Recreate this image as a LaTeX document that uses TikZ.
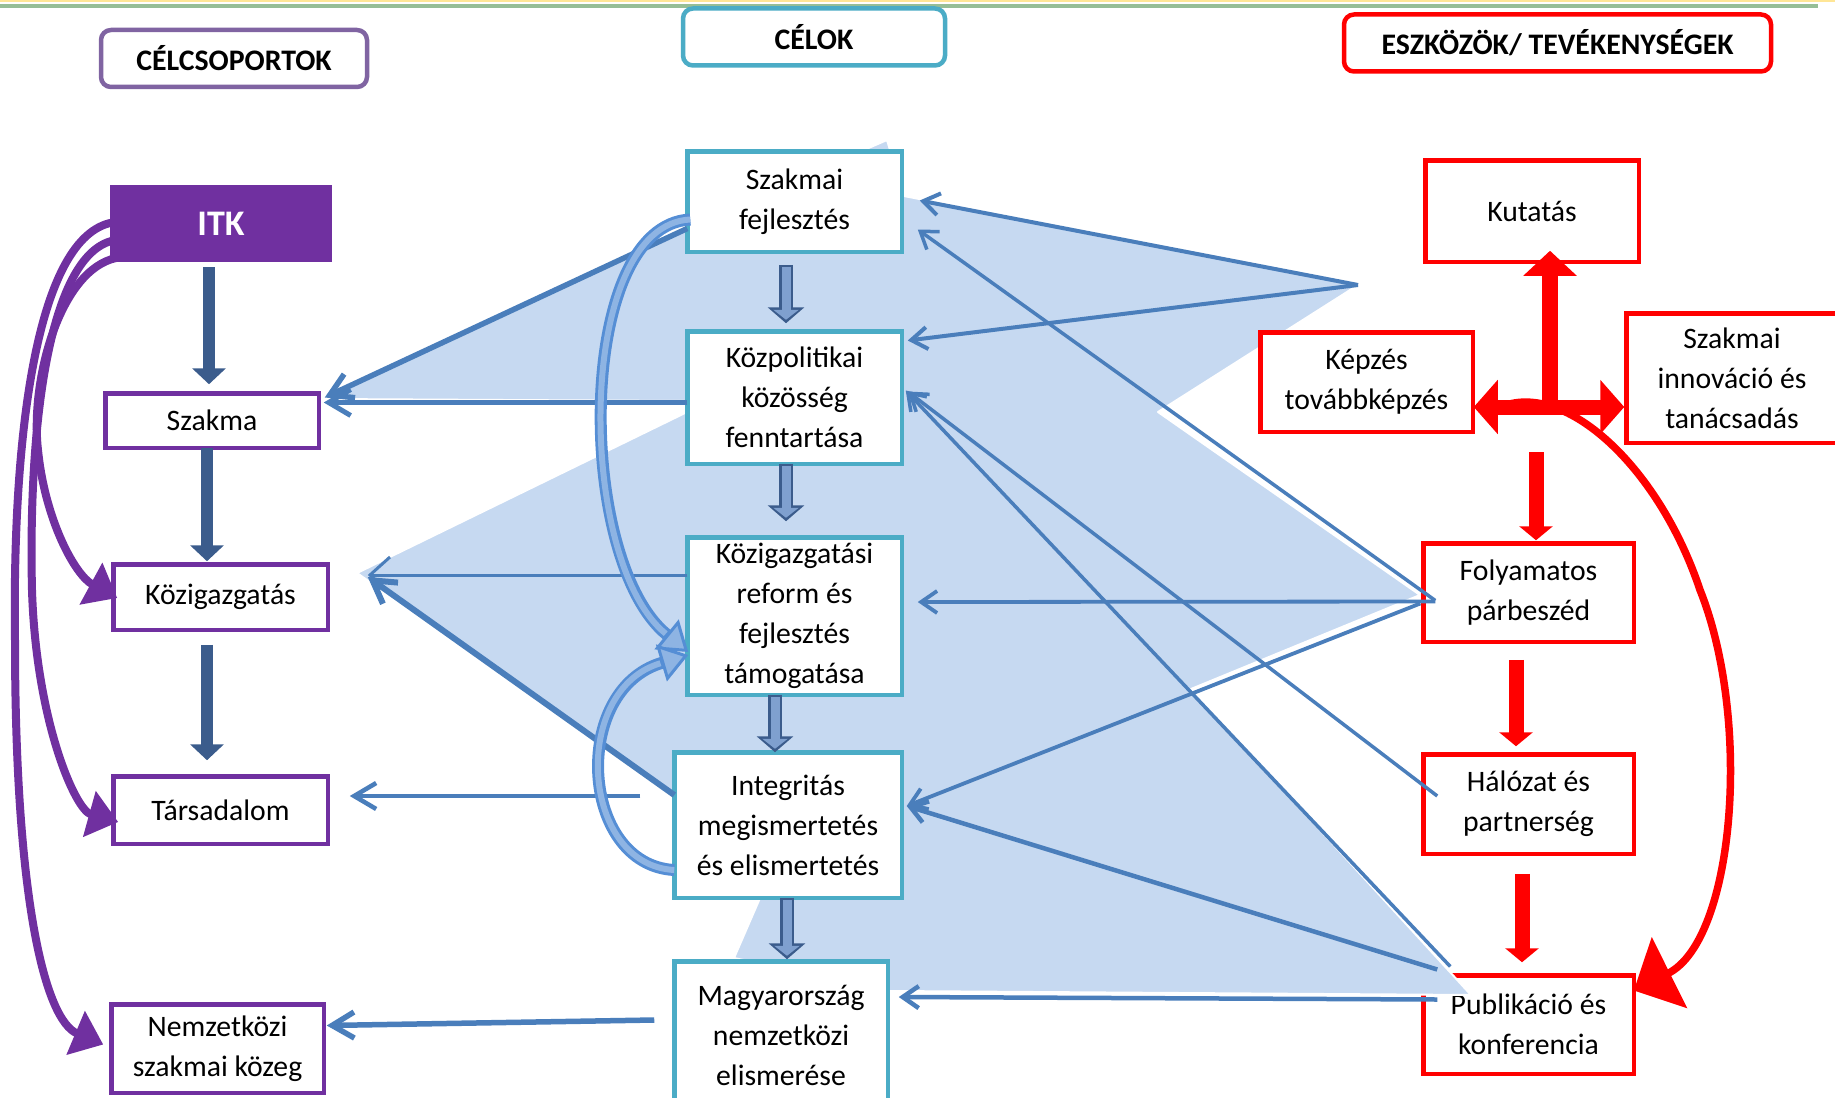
\documentclass[tikz,border=0pt]{standalone}
\usepackage{fontspec}
\setmainfont{Carlito}
\usetikzlibrary{arrows.meta,calc}
\definecolor{purp}{RGB}{112,48,160}
\definecolor{hpurp}{RGB}{128,100,162}
\definecolor{celteal}{RGB}{75,172,198}
\definecolor{bred}{RGB}{255,0,0}
\definecolor{lblue}{RGB}{198,217,241}
\definecolor{ablue}{RGB}{74,126,187}
\definecolor{dblue}{RGB}{59,92,140}
\definecolor{hfill}{RGB}{127,160,207}
\definecolor{cedge}{RGB}{85,142,213}
\definecolor{cfill}{RGB}{142,180,227}
\definecolor{topy}{RGB}{255,230,150}
\definecolor{topg}{RGB}{150,190,150}
\tikzset{
  box/.style={draw, line width=4.5pt, fill=white, inner sep=0pt, outer sep=0pt, align=center, font=\fontsize{29.7}{40}\selectfont},
  pbox/.style={box, draw=purp},
  tbox/.style={box, draw=celteal},
  rbox/.style={box, draw=bred},
  hdr/.style={draw, line width=4.5pt, fill=white, rounded corners=10pt, inner sep=0pt, outer sep=0pt, font=\bfseries\fontsize{29.8}{34}\selectfont},
  barbA/.style={draw=ablue, -{Straight Barb[length=16pt,width=22pt]}},
  barbB/.style={draw=ablue, -{Straight Barb[length=22pt,width=26pt]}},
  colarrow/.style={draw=dblue, line width=12pt, -{Triangle[length=16pt,width=33pt]}},
  redarrow/.style={draw=bred, line width=15pt, -{Triangle[length=14pt,width=33pt]}},
  purarrow/.style={draw=purp, line width=8pt, -{Triangle[length=30pt,width=46pt]}},
  hollowout/.style={draw=dblue, line width=14pt, -{Triangle[length=16pt,width=36pt]}},
  hollowin/.style={draw=hfill, line width=9pt, shorten <=2.5pt, shorten >=3.5pt, -{Triangle[length=10pt,width=25pt]}},
  cbout/.style={draw=cedge, line width=12pt, -{Triangle[length=28pt,width=38pt,fill=cfill,line width=3pt]}},
  cbin/.style={draw=cfill, line width=6pt, shorten >=29pt},
}
\begin{document}
\begin{tikzpicture}[x=1pt,y=-1pt]
\useasboundingbox (0,0) rectangle (1835,1097);
\clip (0,0) rectangle (1835,1097);
% top stripes
\fill[topy] (0,0) rectangle (1835,2.5);
\fill[topg] (0,4.5) rectangle (1818,8.5);

% box under the fill
\node[rbox, minimum width=210.5pt, minimum height=98.5pt] (pub) at (1528.5,1024.5) {Publikáció és\\konferencia};

% light blue background shape
\fill[lblue, draw=white, line width=2pt, line join=round]
  (887,140) -- (904,196) -- (1358,285) -- (1158,412) -- (1420,595) -- (1191,689)
  -- (1471,995) -- (890,991) -- (734,958) -- (760,898) -- (674,795) -- (357,573)
  -- (685,413) -- (685,401) -- (323,399) -- (688,226) -- cycle;

% headers
\node[hdr, draw=hpurp, minimum width=266pt, minimum height=57pt] (h1) at (234,58.5) {CÉLCSOPORTOK};
\node[hdr, draw=celteal, minimum width=262pt, minimum height=57pt] (h2) at (814,37) {CÉLOK};
\node[hdr, draw=bred, minimum width=427pt, minimum height=57pt] (h3) at (1557.5,43) {ESZKÖZÖK/ TEVÉKENYSÉGEK};

% left column
\node[fill=purp, text=white, inner sep=0pt, outer sep=0pt, minimum width=222pt, minimum height=77pt, font=\bfseries\fontsize{36}{40}\selectfont] (itk) at (221,223.5) {ITK};
\node[pbox, minimum width=213.5pt, minimum height=54.5pt] (szakma) at (212,420.5) {Szakma};
\node[pbox, minimum width=214.5pt, minimum height=65.5pt] (kozig) at (220.5,597) {Közigazgatás};
\node[pbox, minimum width=214.5pt, minimum height=67.5pt] (tars) at (220.5,810) {Társadalom};
\node[pbox, minimum width=212.5pt, minimum height=88.5pt] (nemz) at (217.5,1048.5) {Nemzetközi\\szakmai közeg};

% middle column
\node[tbox, minimum width=214.5pt, minimum height=100.5pt] (sf) at (794.5,201.5) {Szakmai\\fejlesztés};
\node[tbox, minimum width=214.5pt, minimum height=132.5pt] (kp) at (794.5,397.5) {Közpolitikai\\közösség\\fenntartása};
\node[tbox, minimum width=214.5pt, minimum height=157.5pt] (kr) at (794.5,616) {Közigazgatási\\reform és\\fejlesztés\\támogatása};
\node[tbox, minimum width=227.5pt, minimum height=145.5pt] (ig) at (788,825) {Integritás\\megismertetés\\és elismertetés};
\node[tbox, minimum width=213.5pt, minimum height=147.5pt] (mo) at (781,1035) {Magyarország\\nemzetközi\\elismerése};

% right column
\node[rbox, minimum width=213.5pt, minimum height=101.5pt] (kut) at (1532,211) {Kutatás};
\node[rbox, minimum width=212.5pt, minimum height=99.5pt] (kep) at (1366.5,382) {Képzés\\továbbképzés};
\node[rbox, minimum width=211.5pt, minimum height=129.5pt] (inn) at (1732,378) {Szakmai\\innováció és\\tanácsadás};
\node[rbox, minimum width=210.5pt, minimum height=98.5pt] (foly) at (1528.5,592.5) {Folyamatos\\párbeszéd};
\node[rbox, minimum width=210.5pt, minimum height=99.5pt] (hal) at (1528.5,804) {Hálózat és\\partnerség};

% right-side blue arrows
\coordinate (P) at (1358,285);
\draw[barbA, line width=4pt] (P) -- ($(sf.east)+(18,-1)$);
\draw[barbA, line width=4pt] (P) -- ($(kp.east)+(6,-57)$);
\draw[barbA, line width=3.5pt] ($(foly.west)+(12,8)$) -- ($(sf.east)+(16,28)$);
\draw[barbA, line width=3.8pt] ($(foly.west)+(12,9)$) -- ($(kr.east)+(16,-14)$);
\draw[barbA, line width=3.8pt] ($(foly.west)+(-3,11)$) -- ($(ig.east)+(5,-19)$);
\draw[barbA, line width=3.5pt] ($(hal.west)+(14,-8)$) -- ($(kp.east)+(6,-6)$);
\draw[barbA, line width=3.5pt] ($(pub.west)+(27,-58)$) -- ($(kp.east)+(4,-7)$);
\draw[barbA, line width=4.5pt] ($(pub.west)+(14,-55)$) -- ($(ig.east)+(5,-19)$);
\draw[barbA, line width=4.5pt] ($(pub.west)+(14,-25)$) -- ($(mo.east)+(11,-38)$);

% left-side blue arrows
\draw[barbB, line width=5.5pt] ($(sf.west)+(0,27)$) -- ($(szakma.east)+(6,-23)$);
\draw[barbB, line width=5pt] ($(kp.west)+(0,5)$) -- ($(szakma.east)+(5,-18)$);
\draw[draw=ablue, line width=3pt, -{Straight Barb[length=20pt,width=36pt]}] ($(kr.west)+(0,-41)$) -- ($(kozig.east)+(40,-22)$);
\draw[barbB, line width=6pt] ($(ig.west)+(0,-30)$) -- ($(kozig.east)+(40,-20)$);
\draw[barbB, line width=4.5pt] ($(ig.west)+(-34,-29)$) -- ($(tars.east)+(22,-14)$);
\draw[barbB, line width=5.5pt] ($(mo.west)+(-20,-15)$) -- ($(nemz.east)+(3,-23)$);

% left column arrows
\draw[colarrow] ($(itk.south)+(-12,5)$) -- ($(szakma.north)+(-3,-9)$);
\draw[colarrow] ($(szakma.south)+(-5,0)$) -- ($(kozig.north)+(-13.5,-3)$);
\draw[colarrow] ($(kozig.south)+(-13.5,15)$) -- ($(tars.north)+(-13.5,-16)$);

% middle column hollow arrows
\coordinate (m1s) at ($(sf.south)+(-8.5,13)$); \coordinate (m1e) at ($(kp.north)+(-8.5,-8)$);
\coordinate (m2s) at ($(kp.south)+(-8.5,0)$); \coordinate (m2e) at ($(kr.north)+(-8.5,-16)$);
\coordinate (m3s) at ($(kr.south)+(-19.5,0)$); \coordinate (m3e) at ($(ig.north)+(-13,0)$);
\coordinate (m4s) at ($(ig.south)+(-1,0)$); \coordinate (m4e) at ($(mo.north)+(6,-2)$);
\draw[hollowout] (m1s) -- (m1e); \draw[hollowin] (m1s) -- (m1e);
\draw[hollowout] (m2s) -- (m2e); \draw[hollowin] (m2s) -- (m2e);
\draw[hollowout] (m3s) -- (m3e); \draw[hollowin] (m3s) -- (m3e);
\draw[hollowout] (m4s) -- (m4e); \draw[hollowin] (m4s) -- (m4e);

% curved light-blue arrows
\draw[cbout] ($(sf.west)+(3,18)$) .. controls (575,225) and (575,560) .. ($(kr.west)+(1,36)$);
\draw[cbin] ($(sf.west)+(3,18)$) .. controls (575,225) and (575,560) .. ($(kr.west)+(1,36)$);
\draw[cbout] ($(ig.west)+(0,45)$) .. controls (580,865) and (570,690) .. ($(kr.west)+(1,39)$);
\draw[cbin] ($(ig.west)+(0,45)$) .. controls (580,865) and (570,690) .. ($(kr.west)+(1,39)$);

% purple curved arrows
\draw[purarrow] ($(itk.west)+(6,-1.5)$) .. controls (40,230) and (12,420) .. (15,640) .. controls (15,900) and (45,1020) .. ($(nemz.west)+(-8,-4)$);
\draw[purarrow] ($(itk.west)+(6,16.5)$) .. controls (50,250) and (28,420) .. (32,590) .. controls (36,720) and (75,810) .. ($(tars.west)+(5,12)$);
\draw[purarrow] ($(itk.west)+(6,34.5)$) .. controls (60,270) and (30,380) .. (38,450) .. controls (45,520) and (75,575) .. ($(kozig.west)+(4,1)$);

% red arrows
\draw[draw=bred, line width=15pt, {Triangle[length=24pt,width=53pt]}-{Triangle[length=24pt,width=53pt]}] ($(kep.east)+(1,25)$) -- ($(inn.west)+(-2,29)$);
\coordinate (tj) at (1550,407.5);
\draw[draw=bred, line width=16pt, -{Triangle[length=25pt,width=52pt]}] (tj) -- ($(kut.south)+(18,-11)$);
\coordinate (r3s) at (1536,452);
\draw[redarrow] (r3s) -- ($(foly.north)+(7.5,-3)$);
\draw[redarrow] ($(foly.south)+(-12.5,18)$) -- ($(hal.north)+(-12.5,-8)$);
\draw[redarrow] ($(hal.south)+(-6.5,20)$) -- ($(pub.north)+(-6.5,-13)$);
\coordinate (rcs) at (1506,405);
\draw[draw=bred, line width=7.5pt, -{Triangle[length=40pt,width=78pt]}] (rcs) .. controls (1570,385) and (1660,470) .. (1700,590) .. controls (1752,720) and (1735,940) .. ($(pub.east)+(0,-34)$);
\end{tikzpicture}
\end{document}
